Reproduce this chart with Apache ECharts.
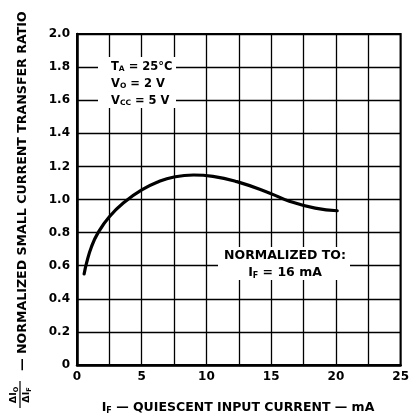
<!DOCTYPE html>
<html>
<head>
<meta charset="utf-8">
<script src="https://cdn.jsdelivr.net/npm/echarts@6/dist/echarts.min.js"></script>
<style>html,body{margin:0;padding:0;background:#fff}#c{width:412px;height:418px}</style>
</head>
<body>
<div id="c"></div>
<script>
// Data
const currentMA = [0.55, 0.75, 1.1, 1.6, 2.5, 3.75, 5, 6.25, 7.5, 9, 10.5, 12.35, 14.85, 16.4, 18.4, 20.1];
const ratio     = [0.55, 0.62, 0.71, 0.795, 0.896, 0.99, 1.058, 1.106, 1.136, 1.148, 1.14, 1.108, 1.04, 0.99, 0.948, 0.932];
const xTickLabels = ['0', '5', '10', '15', '20', '25'];
const yTickLabels = ['0', '0.2', '0.4', '0.6', '0.8', '1.0', '1.2', '1.4', '1.6', '1.8', '2.0'];

const FONT = '"DejaVu Sans", "Liberation Sans", Arial, sans-serif';
const chart = echarts.init(document.getElementById('c'), null, {renderer: 'canvas'});
const points = currentMA.map((x, i) => [x, ratio[i]]);

const sub = {fontFamily: FONT, fontWeight: 'bold', fontSize: 7.5, padding: [5, 0, 0, 0], fill: '#000'};
const norm = {fontFamily: FONT, fontWeight: 'bold', fontSize: 11.5, fill: '#000'};
const normL = {fontFamily: FONT, fontWeight: 'bold', fontSize: 12.5, fill: '#000'};
const subL = {fontFamily: FONT, fontWeight: 'bold', fontSize: 8, padding: [5, 0, 0, 0], fill: '#000'};

chart.setOption({
  animation: false,
  backgroundColor: '#fff',
  grid: {left: 77, right: 6, top: 34, bottom: 53, containLabel: false,
         show: true, borderColor: '#000', borderWidth: 2},
  xAxis: {
    type: 'value', min: 0, max: 25, interval: 2.5,
    axisLine: {show: true, lineStyle: {color: '#000', width: 2.5}},
    axisTick: {show: false},
    splitLine: {show: true, lineStyle: {color: '#000', width: 1.3}},
    axisLabel: {
      color: '#000', fontFamily: FONT, fontWeight: 'bold', fontSize: 12, margin: 6,
      formatter: v => (Math.abs(v / 5 - Math.round(v / 5)) < 1e-6 ? xTickLabels[Math.round(v / 5)] : '')
    }
  },
  yAxis: {
    type: 'value', min: 0, max: 2, interval: 0.2,
    axisLine: {show: true, lineStyle: {color: '#000', width: 2.5}},
    axisTick: {show: false},
    splitLine: {show: true, lineStyle: {color: '#000', width: 1.3}},
    axisLabel: {
      color: '#000', fontFamily: FONT, fontWeight: 'bold', fontSize: 12, margin: 7,
      formatter: v => yTickLabels[Math.round(v / 0.2)]
    }
  },
  series: [{
    type: 'line', data: points, smooth: 0.5, symbol: 'none',
    lineStyle: {color: '#000', width: 3.2, cap: 'round', join: 'round'}, z: 5
  }],
  graphic: [
    // Conditions box
    {type: 'rect', left: 98, top: 57, z: 10, shape: {width: 78, height: 51}, style: {fill: '#fff'}},
    {type: 'text', x: 111, y: 67, z: 11, style: {
      text: '{n|T}{s|A}{n| = 25°C}', verticalAlign: 'middle', rich: {n: norm, s: sub}}},
    {type: 'text', x: 111, y: 84, z: 11, style: {
      text: '{n|V}{s|O}{n| = 2 V}', verticalAlign: 'middle', rich: {n: norm, s: sub}}},
    {type: 'text', x: 111, y: 101, z: 11, style: {
      text: '{n|V}{s|CC}{n| = 5 V}', verticalAlign: 'middle', rich: {n: norm, s: sub}}},
    // Normalized box
    {type: 'rect', left: 218, top: 247, z: 10, shape: {width: 132, height: 33}, style: {fill: '#fff'}},
    {type: 'text', x: 285, y: 256, z: 11, style: {
      text: 'NORMALIZED TO:', align: 'center', verticalAlign: 'middle',
      font: 'bold 12.5px ' + FONT, fill: '#000'}},
    {type: 'text', x: 285, y: 273, z: 11, style: {
      text: '{n|I}{s|F}{n| = 16 mA}', align: 'center', verticalAlign: 'middle', rich: {n: normL, s: subL}}},
    // X axis title
    {type: 'text', x: 238, y: 408, z: 11, style: {
      text: '{n|I}{s|F}{n| — QUIESCENT INPUT CURRENT — mA}', align: 'center', verticalAlign: 'middle',
      rich: {n: normL, s: subL}}},
    // Y axis title (rotated)
    {type: 'group', x: 23, y: 411, rotation: Math.PI / 2, z: 11, children: [
      {type: 'text', x: 16, y: -9, style: {
        text: '{n|ΔI}{s|O}', align: 'center', verticalAlign: 'middle',
        rich: {n: {fontFamily: FONT, fontWeight: 'bold', fontSize: 9.5, fill: '#000'}, s: {fontFamily: FONT, fontWeight: 'bold', fontSize: 6.5, padding: [4,0,0,0], fill: '#000'}}}},
      {type: 'line', shape: {x1: 3, y1: -3, x2: 30, y2: -3}, style: {stroke: '#000', lineWidth: 1.2}},
      {type: 'text', x: 16, y: 4, style: {
        text: '{n|ΔI}{s|F}', align: 'center', verticalAlign: 'middle',
        rich: {n: {fontFamily: FONT, fontWeight: 'bold', fontSize: 9.5, fill: '#000'}, s: {fontFamily: FONT, fontWeight: 'bold', fontSize: 6.5, padding: [4,0,0,0], fill: '#000'}}}},
      {type: 'text', x: 40, y: 0, style: {
        text: '— NORMALIZED SMALL CURRENT TRANSFER RATIO', align: 'left', verticalAlign: 'middle',
        font: 'bold 12.6px ' + FONT, fill: '#000'}}
    ]}
  ]
});
</script>
</body>
</html>
